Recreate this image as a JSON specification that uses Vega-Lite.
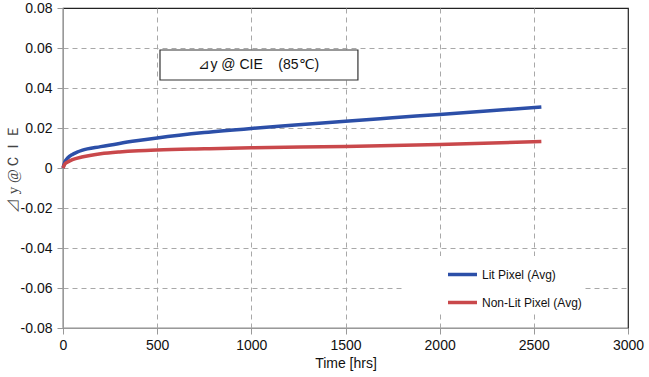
{
  "$schema": "https://vega.github.io/schema/vega-lite/v6.json",
  "width": 565,
  "height": 320,
  "autosize": "none",
  "padding": {"left": 63, "top": 8, "right": 21, "bottom": 49},
  "background": "white",
  "config": {
    "view": {"stroke": "#222", "strokeWidth": 1.2},
    "axis": {
      "labelFont": "Liberation Sans", "labelFontSize": 14, "labelColor": "#111", "labelFlush": false,
      "titleFont": "Liberation Sans", "titleFontSize": 14, "titleColor": "#111", "titleFontWeight": "normal",
      "domainColor": "#999", "tickColor": "#999", "tickSize": 6,
      "gridColor": "#a8a8a8", "gridDash": [5, 4], "gridWidth": 1
    }
  },
  "datasets": {
    "series": [
      {"t": 0, "v": 0, "s": "Lit Pixel (Avg)"},
      {"t": 10, "v": 0.003, "s": "Lit Pixel (Avg)"},
      {"t": 25, "v": 0.005, "s": "Lit Pixel (Avg)"},
      {"t": 50, "v": 0.0068, "s": "Lit Pixel (Avg)"},
      {"t": 75, "v": 0.0079, "s": "Lit Pixel (Avg)"},
      {"t": 100, "v": 0.0088, "s": "Lit Pixel (Avg)"},
      {"t": 200, "v": 0.0107, "s": "Lit Pixel (Avg)"},
      {"t": 300, "v": 0.0123, "s": "Lit Pixel (Avg)"},
      {"t": 400, "v": 0.0137, "s": "Lit Pixel (Avg)"},
      {"t": 500, "v": 0.015, "s": "Lit Pixel (Avg)"},
      {"t": 750, "v": 0.0177, "s": "Lit Pixel (Avg)"},
      {"t": 1000, "v": 0.0198, "s": "Lit Pixel (Avg)"},
      {"t": 1250, "v": 0.0216, "s": "Lit Pixel (Avg)"},
      {"t": 1500, "v": 0.0234, "s": "Lit Pixel (Avg)"},
      {"t": 1750, "v": 0.0251, "s": "Lit Pixel (Avg)"},
      {"t": 2000, "v": 0.0268, "s": "Lit Pixel (Avg)"},
      {"t": 2250, "v": 0.0285, "s": "Lit Pixel (Avg)"},
      {"t": 2540, "v": 0.0305, "s": "Lit Pixel (Avg)"},
      {"t": 0, "v": 0, "s": "Non-Lit Pixel (Avg)"},
      {"t": 10, "v": 0.002, "s": "Non-Lit Pixel (Avg)"},
      {"t": 25, "v": 0.003, "s": "Non-Lit Pixel (Avg)"},
      {"t": 50, "v": 0.0042, "s": "Non-Lit Pixel (Avg)"},
      {"t": 100, "v": 0.0055, "s": "Non-Lit Pixel (Avg)"},
      {"t": 150, "v": 0.0064, "s": "Non-Lit Pixel (Avg)"},
      {"t": 200, "v": 0.0071, "s": "Non-Lit Pixel (Avg)"},
      {"t": 300, "v": 0.008, "s": "Non-Lit Pixel (Avg)"},
      {"t": 400, "v": 0.0086, "s": "Non-Lit Pixel (Avg)"},
      {"t": 500, "v": 0.009, "s": "Non-Lit Pixel (Avg)"},
      {"t": 750, "v": 0.0096, "s": "Non-Lit Pixel (Avg)"},
      {"t": 1000, "v": 0.0101, "s": "Non-Lit Pixel (Avg)"},
      {"t": 1500, "v": 0.0108, "s": "Non-Lit Pixel (Avg)"},
      {"t": 2000, "v": 0.0118, "s": "Non-Lit Pixel (Avg)"},
      {"t": 2540, "v": 0.0132, "s": "Non-Lit Pixel (Avg)"}
    ],
    "note": [
      {"x1": 515, "x2": 1566, "y1": 0.059, "y2": 0.044, "xc": 1040, "yc": 0.0515, "label": "⊿y @ CIE\u00a0\u00a0\u00a0\u00a0(85℃)"}
    ]
  },
  "layer": [
    {
      "data": {"name": "series"},
      "mark": {"type": "line", "strokeWidth": 3.5, "interpolate": "monotone"},
      "encoding": {
        "x": {
          "field": "t", "type": "quantitative",
          "scale": {"domain": [0, 3000], "nice": false},
          "axis": {
            "title": "Time [hrs]", "values": [0, 500, 1000, 1500, 2000, 2500, 3000], "format": "d",
            "labelPadding": 4, "titlePadding": 4,
            "gridOpacity": {"condition": {"test": "datum.value == 0 || datum.value == 3000", "value": 0}, "value": 1}
          }
        },
        "y": {
          "field": "v", "type": "quantitative",
          "scale": {"domain": [-0.08, 0.08], "nice": false},
          "axis": {
            "title": "⊿ y @ＣＩＥ", "titleFont": "Liberation Serif", "titleFontSize": 15, "titleColor": "#444",
            "tickCount": 8,
            "labelExpr": "datum.value == 0 ? '0' : replace(format(datum.value, '.2f'), '\u2212', '-')",
            "labelOverlap": false,
            "labelPadding": 5, "titlePadding": 0,
            "gridOpacity": {"condition": {"test": "abs(datum.value) > 0.079", "value": 0}, "value": 1}
          }
        },
        "color": {
          "field": "s", "type": "nominal",
          "scale": {"domain": ["Lit Pixel (Avg)", "Non-Lit Pixel (Avg)"], "range": ["#2c4fa8", "#c9484b"]},
          "legend": {
            "title": null, "orient": "none", "legendX": 342, "legendY": 248,
            "fillColor": "white", "padding": 2, "symbolType": "stroke", "symbolSize": 841,
            "symbolStrokeWidth": 3.5, "symbolOffset": 39, "labelOffset": 3,
            "labelFont": "Liberation Sans", "labelFontSize": 12, "labelColor": "#111", "rowPadding": 4,
            "labelExpr": "datum.label + '\u00a0\u00a0\u00a0\u00a0\u00a0\u00a0\u00a0\u00a0\u00a0\u00a0\u00a0\u00a0'"
          }
        }
      }
    },
    {
      "data": {"name": "note"},
      "mark": {"type": "rect", "fill": "white", "stroke": "#333", "strokeWidth": 1.2},
      "encoding": {
        "x": {"field": "x1", "type": "quantitative"},
        "x2": {"field": "x2"},
        "y": {"field": "y1", "type": "quantitative"},
        "y2": {"field": "y2"}
      }
    },
    {
      "data": {"name": "note"},
      "mark": {"type": "text", "font": "Liberation Sans", "fontSize": 14, "color": "#111"},
      "encoding": {
        "x": {"field": "xc", "type": "quantitative"},
        "y": {"field": "yc", "type": "quantitative"},
        "text": {"field": "label"}
      }
    }
  ]
}
